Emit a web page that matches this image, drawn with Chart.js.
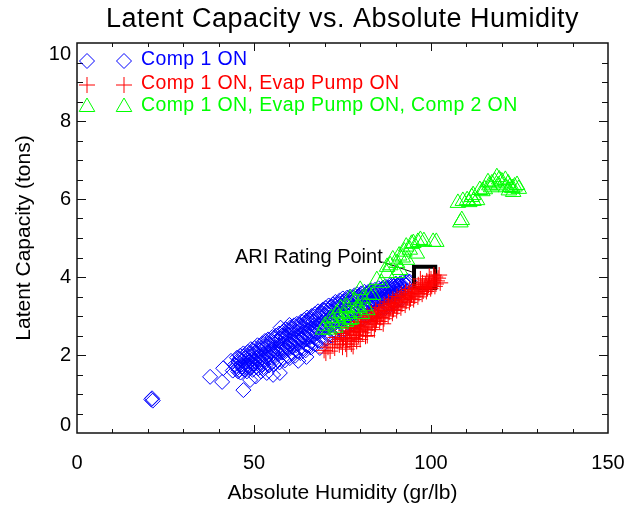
<!DOCTYPE html>
<html>
<head>
<meta charset="utf-8">
<script src="https://cdn.jsdelivr.net/npm/chart.js@4"></script>
<style>
html, body { margin: 0; padding: 0; background: #fff; }
</style>
</head>
<body>
<canvas id="c" width="628" height="508"></canvas>
<script>
// axis ticks
const xTicks = [0, 50, 100, 150]
const yTicks = [0, 2, 4, 6, 8, 10]

const seriesNames = ['Comp 1 ON', 'Comp 1 ON, Evap Pump ON', 'Comp 1 ON, Evap Pump ON, Comp 2 ON']
const seriesColors = ['#0000ff', '#ff0000', '#00ff00']

// Comp 1 ON  (absolute humidity, latent capacity)
const comp1 = [
  [21.0,0.86],[21.4,0.83],[21.2,0.89],
  [37.6,1.44],[41.3,1.66],[41.0,1.31],[44.0,1.60],[47.0,1.10],[48.9,1.36],[53.6,1.54],[55.4,1.49],[57.3,1.54],
  [43.5,1.85],[44.6,1.75],[62.5,1.85],[64.8,1.95],[68.6,2.18],[52.0,1.58],[50.5,1.45],[60.0,2.77],[57.5,2.70],
  [45.2,1.93],[46.1,1.98],[47.0,2.04],[48.3,2.08],[49.1,2.15],[50.2,2.18],[51.0,2.25],[52.4,2.30],[53.1,2.36],[54.0,2.40],
  [55.2,2.46],[56.3,2.50],[57.1,2.55],[58.4,2.62],[59.0,2.66],[60.2,2.70],[61.3,2.76],[62.1,2.80],[63.4,2.86],[64.2,2.90],
  [65.0,2.96],[66.3,3.00],[67.2,3.05],[68.1,3.12],[69.4,3.16],[70.2,3.21],[71.1,3.27],[72.3,3.30],[73.0,3.36],[74.2,3.40],
  [75.1,3.45],[76.3,3.47],[77.2,3.50],[78.4,3.53],[79.1,3.56],[80.3,3.58],[81.2,3.62],[82.4,3.63],[83.1,3.66],[84.3,3.68],
  [85.2,3.71],[86.4,3.72],[87.1,3.76],[88.3,3.78],[89.2,3.80],[90.1,3.83],[91.3,3.84],[92.2,3.88],[93.4,3.90],
  [45.9,1.90],[47.2,1.97],[48.6,2.03],[49.9,2.10],[51.3,2.16],[52.6,2.23],[53.9,2.30],[55.0,2.36],[56.0,2.41],[57.9,2.50],
  [58.9,2.55],[60.0,2.62],[61.0,2.67],[62.3,2.73],[63.1,2.78],[64.5,2.84],[65.4,2.89],[66.0,2.93],[67.0,2.98],[68.4,3.04],
  [69.1,3.09],[70.0,3.14],[71.4,3.19],[72.0,3.24],[73.3,3.29],[74.0,3.33],[75.4,3.37],[76.0,3.41],[77.0,3.44],[78.1,3.47],
  [79.4,3.50],[80.0,3.53],[81.5,3.56],[82.1,3.58],[83.4,3.61],[84.0,3.63],[85.5,3.66],[86.1,3.68],[87.4,3.71],[88.0,3.73],
  [89.5,3.76],[90.4,3.78],[91.0,3.80],[92.5,3.83],[93.1,3.86],[94.0,3.88],
  [45.6,1.82],[46.7,1.86],[47.5,1.92],[48.8,1.96],[49.7,2.02],[50.6,2.06],[51.7,2.12],[52.8,2.16],[53.6,2.22],[54.6,2.27],
  [55.7,2.32],[56.8,2.37],[57.6,2.42],[58.8,2.47],[59.6,2.52],[60.7,2.57],[61.8,2.62],[62.6,2.68],[63.8,2.72],[64.7,2.77],
  [65.6,2.82],[66.8,2.87],[67.7,2.92],[68.7,2.98],[69.8,3.02],[70.7,3.08],[71.7,3.12],[72.8,3.17],[73.6,3.22],[74.7,3.27],
  [75.7,3.30],[76.8,3.34],[77.7,3.37],[78.9,3.41],[79.7,3.44],[80.8,3.47],[81.7,3.50],[82.9,3.52],[83.7,3.55],[84.8,3.58],
  [85.7,3.60],[86.9,3.63],[87.7,3.66],[88.8,3.69],[89.7,3.72],[90.8,3.74],[91.7,3.77],[92.8,3.80],
  [45.0,1.72],[46.4,1.75],[47.3,1.80],[48.5,1.83],[49.4,1.88],[50.5,1.92],[51.4,1.96],[52.5,2.00],[53.4,2.05],[54.5,2.10],
  [55.4,2.14],[56.5,2.18],[57.4,2.23],[58.5,2.28],[59.4,2.33],[60.5,2.38],[61.5,2.43],[62.4,2.48],[63.5,2.53],[64.4,2.58],
  [65.5,2.63],[66.5,2.68],[67.4,2.73],[68.5,2.78],[69.4,2.83],[70.5,2.88],[71.4,2.93],[72.5,2.97],[73.4,3.02],[74.5,3.06],
  [75.4,3.10],[76.5,3.14],[77.4,3.18],[78.5,3.22],[79.4,3.26],[80.5,3.29],[81.4,3.33],[82.5,3.36],[83.4,3.40],[84.5,3.43],
  [85.4,3.46],[86.5,3.50],[87.4,3.53],[88.5,3.56],[89.4,3.60],[90.5,3.63],[91.4,3.66],[92.5,3.70],
  [45.3,1.66],[46.6,1.70],[47.9,1.74],[49.2,1.79],[50.3,1.84],[51.6,1.88],[52.2,1.92],[53.3,1.96],[54.3,2.01],[55.5,2.05],
  [56.6,2.09],[57.7,2.14],[58.2,2.18],[59.3,2.22],[60.3,2.28],[61.2,2.33],[62.2,2.37],[63.3,2.42],[64.1,2.47],[65.2,2.52],
  [66.2,2.57],[67.1,2.62],[68.2,2.67],[69.2,2.72],[70.1,2.77],[71.2,2.82],[72.2,2.87],[73.1,2.92],[74.2,2.96],[75.2,3.01],
  [76.1,3.05],[77.1,3.09],[78.2,3.13],[79.1,3.17],[80.2,3.21],[81.1,3.25],[82.2,3.29],[83.1,3.33],[84.2,3.37],[85.1,3.40],
  [86.2,3.44],[87.1,3.48],[88.2,3.52],[89.1,3.55],[90.2,3.58],[91.1,3.61],
  [45.8,1.62],[46.9,1.66],[47.8,1.69],[48.9,1.72],[49.9,1.76],[50.9,1.79],[51.9,1.82],[52.9,1.86],[53.9,1.90],[54.9,1.93],
  [55.9,1.97],[56.9,2.02],[57.9,2.06],[58.9,2.10],[59.9,2.15],[60.9,2.20],[61.9,2.25],[62.9,2.30],[63.9,2.35],[64.9,2.40],
  [65.9,2.46],[66.9,2.50],[67.9,2.56],[68.9,2.61],[69.9,2.66],[70.9,2.71],[71.9,2.76],[72.9,2.81],[73.9,2.86],[74.9,2.91],
  [75.9,2.95],[76.9,3.00],[77.9,3.04],[78.9,3.09],[79.9,3.13],[80.9,3.17],[81.9,3.22],[82.9,3.26],[83.9,3.30],[84.9,3.34],
  [85.9,3.38],[86.9,3.42],[87.9,3.46],[88.9,3.50],[89.9,3.54],[90.9,3.57],
  [45.5,1.58],[47.4,1.62],[49.0,1.66],[50.7,1.70],[52.3,1.74],[53.8,1.78],[55.1,1.82],[56.6,1.87],[58.1,1.92],[59.5,1.98],
  [60.8,2.04],[62.2,2.10],[63.7,2.16],[65.1,2.23],[66.6,2.30],[68.1,2.37],[69.6,2.45],[71.1,2.52],[72.6,2.59],[74.1,2.66],
  [75.6,2.73],[77.1,2.80],[78.6,2.87],[80.1,2.94],[81.6,3.01],[83.1,3.08],[84.6,3.15],[86.1,3.22],[87.6,3.29],[89.1,3.36],[90.6,3.43],
  [46.2,1.55],[48.0,1.58],[49.6,1.62],[51.2,1.66],[52.7,1.69],[54.2,1.73],[55.7,1.76],[57.2,1.81],[58.7,1.86],[60.1,1.92],
  [61.6,1.98],[63.1,2.05],[64.6,2.12],[66.1,2.19],[67.6,2.27],[69.1,2.34],[70.6,2.42],[72.1,2.49],[73.6,2.56],[75.1,2.63],
  [76.6,2.71],[78.1,2.78],[79.6,2.85],[81.1,2.92],[82.6,2.99],[84.1,3.06],[85.6,3.13],[87.1,3.20],[88.6,3.28],[90.1,3.35],[91.6,3.42]
]

// Comp 1 ON, Evap Pump ON
const comp1Evap = [
  [69.8,2.12],[70.3,2.05],[70.9,2.20],[71.5,2.10],[72.2,2.28],[72.8,2.18],[73.5,2.35],[74.1,2.26],
  [73.0,2.45],[74.5,2.40],[75.0,2.20],[77.5,2.28],[80.0,2.40],[81.5,2.48],[84.0,2.65],[86.5,2.80],
  [74.8,2.55],[76.0,2.62],[77.2,2.70],[78.4,2.78],[79.6,2.86],[80.8,2.94],[82.0,3.01],[83.2,3.08],[84.4,3.15],[85.6,3.22],
  [86.8,3.29],[88.0,3.36],[89.2,3.43],[90.4,3.50],[91.6,3.56],[92.8,3.62],[94.0,3.68],[95.2,3.74],[96.4,3.80],[97.6,3.85],
  [98.8,3.90],[100.0,3.95],[101.2,4.00],[102.3,4.05],
  [75.9,2.50],[77.0,2.60],[78.1,2.68],[79.2,2.75],[80.4,2.83],[81.6,2.90],[82.8,2.97],[84.0,3.04],[85.2,3.11],[86.4,3.18],
  [87.6,3.25],[88.8,3.32],[90.0,3.39],[91.2,3.46],[92.4,3.52],[93.6,3.58],[94.8,3.64],[96.0,3.70],[97.2,3.76],[98.4,3.82],
  [99.6,3.87],[100.8,3.92],[102.0,3.97],
  [75.3,2.42],[76.5,2.50],[77.7,2.57],[78.9,2.64],[80.1,2.72],[81.3,2.79],[82.5,2.86],[83.7,2.93],[84.9,3.00],[86.1,3.07],
  [87.3,3.14],[88.5,3.21],[89.7,3.28],[90.9,3.35],[92.1,3.42],[93.3,3.48],[94.5,3.54],[95.7,3.61],[96.9,3.67],[98.1,3.73],
  [99.3,3.79],[100.5,3.85],[101.7,3.90],
  [76.3,2.38],[77.4,2.45],[78.6,2.52],[79.8,2.60],[81.0,2.67],[82.2,2.74],[83.4,2.82],[84.6,2.89],[85.8,2.96],[87.0,3.03],
  [88.2,3.10],[89.4,3.17],[90.6,3.24],[91.8,3.31],[93.0,3.38],[94.2,3.44],[95.4,3.51],[96.6,3.58],[97.8,3.64],[99.0,3.70],
  [100.2,3.76],[101.4,3.82],
  [75.9,2.28],[77.1,2.35],[78.3,2.42],[79.5,2.50],[80.7,2.57],[81.9,2.64],[83.1,2.71],[84.3,2.79],[85.5,2.86],[86.7,2.93],
  [87.9,3.00],[89.1,3.07],[90.3,3.14],[91.5,3.21],[92.7,3.28],[93.9,3.35],[95.1,3.42],[96.3,3.49],[97.5,3.56],[98.7,3.63],
  [99.9,3.70],[101.1,3.76],
  [76.2,2.15],[78.0,2.22],[79.0,2.35],[82.0,2.50],[99.5,4.02],[97.0,3.95],[102.6,3.85],[100.8,4.05]
]

// Comp 1 ON, Evap Pump ON, Comp 2 ON
const comp1EvapComp2 = [
  [69.5,2.65],[70.0,2.75],[71.2,2.65],[71.8,2.95],[72.0,2.85],[73.0,2.70],[73.4,3.07],[73.8,2.95],[74.5,2.80],[75.3,3.00],
  [76.0,2.85],[76.8,3.05],[77.0,2.90],[77.5,2.92],[78.3,3.10],[79.0,3.20],[79.8,3.20],[80.5,3.05],[81.3,3.25],[82.0,3.15],
  [74.5,3.20],[76.3,3.23],[77.2,3.45],[78.5,3.38],[80.8,3.45],[83.6,3.54],
  [80.0,3.67],[82.5,3.55],[84.7,3.92],[86.0,3.85],[87.5,4.10],[87.6,4.26],
  [88.5,4.30],[89.2,4.45],[91.0,4.55],[92.5,4.65],[93.0,4.78],[94.5,4.85],[96.3,4.90],[98.0,4.92],[101.5,4.90],
  [90.4,4.36],[90.4,4.10],[91.2,4.18],[92.0,4.50],[93.2,4.44],[94.0,4.70],[95.0,4.87],[97.0,4.95],[100.6,4.90],[96.0,4.60],
  [107.6,5.90],[108.7,5.46],[108.3,5.40],[109.0,5.95],[110.2,5.97],[110.8,5.92],[111.5,6.05],[111.9,6.10],[113.0,5.97],
  [113.8,6.23],[114.5,6.20],[115.2,6.25],[116.1,6.43],[116.5,6.35],[117.2,6.40],[118.0,6.45],[118.6,6.56],[119.3,6.50],
  [120.0,6.45],[121.0,6.49],[121.2,6.30],[121.8,6.40],[122.3,6.31],[123.0,6.28],[123.2,6.18],[123.6,6.32],[124.3,6.36],
  [124.8,6.26],[122.0,6.22],[119.0,6.35],[117.0,6.30],[112.0,5.95]
]

// ARI rating point and its label leader
const ariPoint = [[98.2, 3.99]]
const ariLeader = [[86.5, 4.38], [94.6, 4.13]]
const ariLabel = 'ARI Rating Point'
const ariLabelAt = [44.6, 4.51]

const toXY = arr => arr.map(p => ({ x: p[0], y: p[1] }))

const FONT = "'Liberation Sans', Arial, sans-serif"

function drawMark(ctx, style, x, y, r, color) {
    ctx.save()
    ctx.strokeStyle = color
    ctx.lineWidth = 1
    ctx.beginPath()
    if (style === 'rectRot') {
        ctx.moveTo(x - r, y); ctx.lineTo(x, y - r); ctx.lineTo(x + r, y); ctx.lineTo(x, y + r); ctx.closePath()
    } else if (style === 'cross') {
        ctx.moveTo(x - r, y); ctx.lineTo(x + r, y); ctx.moveTo(x, y - r); ctx.lineTo(x, y + r)
    } else {
        ctx.moveTo(x, y - r); ctx.lineTo(x + r * 0.866, y + r * 0.5); ctx.lineTo(x - r * 0.866, y + r * 0.5); ctx.closePath()
    }
    ctx.stroke()
    ctx.restore()
}

const frame = {
    id: 'frame',
    afterDraw(chart) {
        const { ctx, chartArea: a, scales: { x, y } } = chart
        ctx.save()
        ctx.strokeStyle = '#111'
        ctx.lineWidth = 1.5
        ctx.strokeRect(a.left, a.top, a.right - a.left, a.bottom - a.top)
        ctx.lineWidth = 1
        ctx.beginPath()
        for (let v = 10; v < 150; v += 10) {
            const px = Math.round(x.getPixelForValue(v)) + 0.5
            const len = v % 50 ? 4 : 8
            ctx.moveTo(px, a.bottom); ctx.lineTo(px, a.bottom - len)
            ctx.moveTo(px, a.top); ctx.lineTo(px, a.top + len)
        }
        for (let v = 0.5; v < 10; v += 0.5) {
            const py = Math.round(y.getPixelForValue(v)) + 0.5
            const len = v % 2 ? 6 : 9
            ctx.moveTo(a.left, py); ctx.lineTo(a.left + len, py)
            ctx.moveTo(a.right, py); ctx.lineTo(a.right - len, py)
        }
        ctx.stroke()

        // tick labels
        ctx.fillStyle = '#000'
        ctx.font = '20px ' + FONT
        ctx.textAlign = 'center'
        ctx.textBaseline = 'middle'
        xTicks.forEach(v => ctx.fillText(String(v), x.getPixelForValue(v), a.bottom + 30))
        ctx.textAlign = 'right'
        yTicks.forEach(v => {
            let py = y.getPixelForValue(v)
            if (v === 0) py -= 8
            if (v === 10) py += 11
            ctx.fillText(String(v), a.left - 6, py)
        })

        // title
        ctx.textAlign = 'center'
        ctx.font = '27px ' + FONT
        ctx.letterSpacing = '0.5px'
        ctx.fillText('Latent Capacity vs. Absolute Humidity', (a.left + a.right) / 2, 20)

        // legend
        const styles = ['rectRot', 'cross', 'triangle']
        const sizes = [7.5, 8, 9]
        const rows = [61, 85, 107]
        ctx.textAlign = 'left'
        ctx.font = '19.5px ' + FONT
        ctx.letterSpacing = '0.4px'
        for (let i = 0; i < 3; i++) {
            drawMark(ctx, styles[i], 87, rows[i], sizes[i], seriesColors[i])
            drawMark(ctx, styles[i], 124, rows[i], sizes[i], seriesColors[i])
            ctx.fillStyle = seriesColors[i]
            ctx.fillText(seriesNames[i], 141, rows[i] - 1)
        }

        // ARI label
        ctx.fillStyle = '#000'
        ctx.font = '20px ' + FONT
        ctx.letterSpacing = '0px'
        ctx.fillText(ariLabel, x.getPixelForValue(ariLabelAt[0]), y.getPixelForValue(ariLabelAt[1]))
        ctx.restore()
    }
}

new Chart(document.getElementById('c').getContext('2d'), {
    type: 'scatter',
    data: {
        datasets: [
            { label: seriesNames[0], data: toXY(comp1), order: 5, pointStyle: 'rectRot', radius: 7.5,
              borderColor: seriesColors[0], backgroundColor: 'transparent', borderWidth: 1 },
            { label: 'ARI', data: toXY(ariPoint), order: 4, pointStyle: 'rect', radius: 15,
              borderColor: '#000', backgroundColor: 'transparent', borderWidth: 4 },
            { label: 'leader', type: 'line', data: toXY(ariLeader), order: 4, showLine: true, radius: 0,
              borderColor: '#000', borderWidth: 1 },
            { label: seriesNames[1], data: toXY(comp1Evap), order: 3, pointStyle: 'cross', radius: 8,
              borderColor: seriesColors[1], backgroundColor: 'transparent', borderWidth: 1 },
            { label: seriesNames[2], data: toXY(comp1EvapComp2), order: 2, pointStyle: 'triangle', radius: 9,
              borderColor: seriesColors[2], backgroundColor: 'transparent', borderWidth: 1 }
        ]
    },
    options: {
        responsive: false,
        animation: false,
        events: [],
        layout: { padding: { top: 43, right: 20, bottom: 0, left: 0 } },
        plugins: {
            legend: { display: false },
            tooltip: { enabled: false },
            title: { display: false }
        },
        scales: {
            x: {
                type: 'linear', min: 0, max: 150,
                grid: { display: false, drawTicks: false },
                border: { display: false },
                ticks: { display: false },
                title: { display: true, text: 'Absolute Humidity (gr/lb)', color: '#000',
                         font: { family: FONT, size: 21 }, padding: { top: 4, bottom: 2 } },
                afterFit: s => { s.height = 75 }
            },
            y: {
                type: 'linear', min: 0, max: 10,
                grid: { display: false, drawTicks: false },
                border: { display: false },
                ticks: { display: false },
                title: { display: true, text: 'Latent Capacity (tons)', color: '#000',
                         font: { family: FONT, size: 21 }, padding: { top: 12, bottom: 4 } },
                afterFit: s => { s.width = 77 }
            }
        }
    },
    plugins: [frame]
})
</script>
</body>
</html>
